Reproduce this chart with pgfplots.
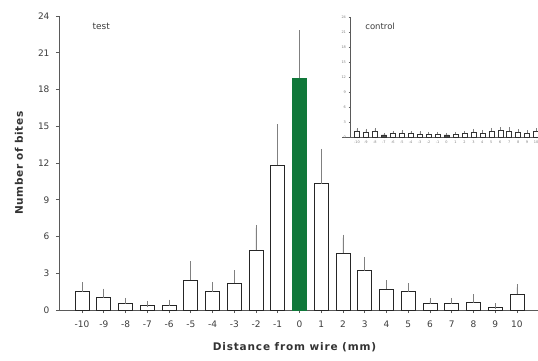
\documentclass[border=0pt]{standalone}
\usepackage{pgfplots}
\usepackage{pgfplotstable}
\usepackage{fontspec}
\setmainfont{DejaVu Sans}
\setsansfont{DejaVu Sans}
\pgfplotsset{compat=1.18}
\definecolor{bargreen}{RGB}{16,120,58}
\definecolor{axgray}{RGB}{90,90,90}
\definecolor{txtgray}{RGB}{60,60,60}

\pgfplotstableread{
x y e
-10 1.5 0.5
-9 1.0 0.5
-8 0.55 0.2
-7 0.4 0.1
-6 0.4 0.2
-5 2.45 1.3
-4 1.5 0.55
-3 2.2 0.8
-2 4.9 1.8
-1 11.8 3.1
1 10.3 2.6
2 4.65 1.25
3 3.2 0.9
4 1.7 0.5
5 1.5 0.45
6 0.55 0.2
7 0.55 0.2
8 0.6 0.45
9 0.2 0.1
10 1.3 0.55
}\testdata

\pgfplotstableread{
x y e
0 18.9 3.7
}\testzero

\pgfplotstableread{
x y e
-10 1.1 0.4
-9 0.9 0.5
-8 1.1 0.4
-6 0.7 0.3
-5 0.8 0.3
-4 0.7 0.3
-3 0.6 0.3
-2 0.5 0.3
-1 0.5 0.3
1 0.5 0.3
2 0.7 0.3
3 1.0 0.4
4 0.8 0.4
5 1.2 0.4
6 1.3 0.4
7 1.2 0.5
8 0.9 0.4
9 0.7 0.4
10 1.1 0.4
}\controldata

\pgfplotstableread{
x y e
-7 0.4 0.2
0 0.4 0.2
}\controldark

\begin{document}
\begin{tikzpicture}
\useasboundingbox (-59pt,-51pt) rectangle (479pt,310pt);
\begin{axis}[
  at={(0pt,0pt)}, anchor=south west,
  scale only axis, width=479pt, height=294pt,
  xmin=-11.06, xmax=10.97, ymin=0, ymax=24,
  axis lines=left, axis line style={-, axgray, line width=0.8pt},
  xtick={-10,...,10}, ytick={0,3,...,24},
  tick style={axgray, line width=0.6pt},
  tick align=outside, major tick length=3pt,
  ticklabel style={font=\fontsize{9}{10}\selectfont, text=txtgray},
  xticklabel style={yshift=-4pt},
  yticklabel style={xshift=-3pt},
  /pgf/number format/assume math mode=true,
  xlabel={\addfontfeatures{LetterSpace=8}\bfseries Distance from wire (mm)},
  ylabel={\addfontfeatures{LetterSpace=6}\bfseries Number of bites},
  label style={font=\fontsize{10.5}{12}\selectfont, text=black!80},
  xlabel style={xshift=-4pt, yshift=-8pt},
  ylabel style={yshift=8pt},
  clip=false,
]
\addplot[ybar, bar width=14pt, bar shift=0pt, draw=black!85, line width=0.7pt, fill=white,
  error bars/.cd, y dir=plus, y explicit,
  error bar style={gray, line width=0.6pt},
  error mark options={gray, line width=0.6pt, mark size=3pt}]
  table[x=x, y=y, y error=e]{\testdata};
\addplot[ybar, bar width=14pt, bar shift=0pt, draw=bargreen, fill=bargreen,
  error bars/.cd, y dir=plus, y explicit,
  error bar style={gray, line width=0.6pt},
  error mark options={gray, line width=0.6pt, mark size=3pt}]
  table[x=x, y=y, y error=e]{\testzero};
\node[font=\fontsize{9}{10}\selectfont, text=txtgray] at (axis description cs:0.088,0.963) {test};
\end{axis}

\begin{axis}[
  at={(291pt,173pt)}, anchor=south west,
  scale only axis, width=188pt, height=120pt,
  xmin=-10.78, xmax=10.22, ymin=0, ymax=24,
  axis lines=left, axis line style={-, axgray, line width=0.6pt},
  x axis line style={shorten <=-8pt},
  xtick={-10,...,10}, ytick={0,3,...,24},
  tick style={axgray, line width=0.4pt},
  tick align=outside, major tick length=1.5pt,
  ticklabel style={font=\fontsize{3.5}{4}\selectfont, text=gray},
  xticklabel style={yshift=1pt},
  yticklabel style={xshift=1pt},
  /pgf/number format/assume math mode=true,
  clip=false,
]
\addplot[ybar, bar width=5pt, bar shift=0pt, draw=black!80, line width=0.4pt, fill=white,
  error bars/.cd, y dir=plus, y explicit,
  error bar style={gray, line width=0.3pt},
  error mark options={gray, line width=0.3pt, mark size=1.2pt}]
  table[x=x, y=y, y error=e]{\controldata};
\addplot[ybar, bar width=5pt, bar shift=0pt, draw=black!80, line width=0.4pt, fill=black!70,
  error bars/.cd, y dir=plus, y explicit,
  error bar style={gray, line width=0.3pt},
  error mark options={gray, line width=0.3pt, mark size=1.2pt}]
  table[x=x, y=y, y error=e]{\controldark};
\node[font=\fontsize{8.5}{10}\selectfont, text=txtgray] at (axis description cs:0.16,0.92) {control};
\end{axis}
\end{tikzpicture}
\end{document}
